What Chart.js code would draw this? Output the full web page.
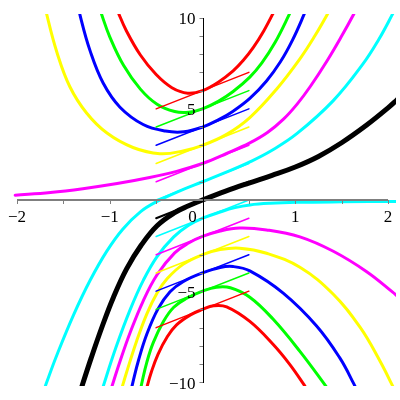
<!DOCTYPE html>
<html>
<head>
<meta charset="utf-8">
<title>Solution curves with tangent lines</title>
<script src="https://cdn.jsdelivr.net/npm/chart.js@4.4.1/dist/chart.umd.min.js"></script>
<style>
    html, body { margin: 0; padding: 0; background: #ffffff; }
    #wrap { width: 400px; height: 400px; }
</style>
</head>
<body>
<div id="wrap"><canvas id="odeChart" width="400" height="400"></canvas></div>
<script>
// y(0) of each drawn solution, top to bottom
const startValues = [6, 5, 4, 3, 2, 1, 0, -1, -2, -3, -4, -5, -6];
const curveColors = ['#ff0000', '#00ff00', '#0000ff', '#ffff00', '#ff00ff', '#00ffff', '#000000',
    '#00ffff', '#ff00ff', '#ffff00', '#0000ff', '#00ff00', '#ff0000'];

// solution curves, [x, y]
const redTop = [[-0.97, 11.08], [-0.91, 10.3], [-0.82, 9.27], [-0.67, 7.95], [-0.5, 6.88], [-0.33, 6.16], [-0.16, 5.86],
    [0, 6.0], [0.17, 6.46], [0.33, 7.08], [0.44, 7.66], [0.55, 8.38], [0.66, 9.27], [0.76, 10.23], [0.82, 10.89]];
const greenTop = [[-1.15, 11.17], [-1.09, 10.21], [-1.0, 8.95], [-0.85, 7.37], [-0.67, 6.08], [-0.49, 5.25], [-0.3, 4.85],
    [-0.15, 4.81], [0, 5.0], [0.17, 5.41], [0.33, 5.95], [0.51, 6.74], [0.64, 7.52], [0.78, 8.62], [0.93, 10.12], [0.99, 10.81]];
const blueTop = [[-1.38, 11.57], [-1.32, 10.13], [-1.21, 8.15], [-1.07, 6.4], [-0.89, 5.09], [-0.64, 4.14], [-0.4, 3.78],
    [-0.2, 3.74], [0, 4.0], [0.17, 4.39], [0.33, 4.87], [0.51, 5.57], [0.69, 6.53], [0.84, 7.58], [0.97, 8.77], [1.09, 10.12], [1.15, 10.89]];
const yellowTop = [[-1.74, 11.63], [-1.68, 10.19], [-1.57, 8.1], [-1.43, 6.21], [-1.25, 4.77], [-1.03, 3.67], [-0.75, 2.88],
    [-0.46, 2.54], [-0.21, 2.69], [0, 3.0], [0.26, 3.6], [0.51, 4.52], [0.8, 6.09], [1.05, 7.74], [1.21, 8.99], [1.36, 10.31], [1.43, 10.99]];
const magentaTop = [[-2.02, 0.26], [-1.64, 0.41], [-1.29, 0.62], [-0.92, 0.9], [-0.57, 1.23], [-0.28, 1.57], [0, 2.0],
    [0.26, 2.55], [0.51, 3.13], [0.7, 3.7], [0.87, 4.42], [1.02, 5.26], [1.16, 6.21], [1.34, 7.61], [1.5, 8.99], [1.63, 10.19], [1.7, 10.89]];
const cyanTop = [[-1.74, -10.88], [-1.68, -10.0], [-1.57, -8.5], [-1.39, -6.3], [-1.21, -4.39], [-1.03, -2.79], [-0.86, -1.6],
    [-0.67, -0.65], [-0.49, -0.08], [-0.25, 0.49], [0, 1.0], [0.25, 1.51], [0.51, 2.09], [0.75, 2.73], [1.02, 3.65], [1.41, 5.45],
    [1.73, 7.46], [1.9, 8.8], [2.04, 10.11], [2.1, 10.74]];
const blackMid = [[-1.35, -11.04], [-1.31, -10.38], [-1.2, -8.66], [-1.08, -6.91], [-0.96, -5.33], [-0.82, -3.79], [-0.66, -2.47],
    [-0.49, -1.41], [-0.3, -0.69], [-0.15, -0.32], [0, 0], [0.25, 0.49], [0.5, 0.93], [0.75, 1.35], [1.0, 1.81], [1.25, 2.39],
    [1.5, 3.14], [1.77, 4.11], [2.0, 5.05], [2.1, 5.51]];
const cyanLow = [[-1.11, -10.89], [-1.07, -10.21], [-0.93, -8.04], [-0.78, -6.01], [-0.64, -4.42], [-0.49, -3.1], [-0.31, -2.02],
    [-0.15, -1.38], [0, -1.0], [0.19, -0.66], [0.35, -0.42], [0.51, -0.27], [0.73, -0.18], [1.02, -0.13], [1.5, -0.1], [2.1, -0.08]];
const magentaLow = [[-1.02, -10.95], [-0.98, -10.28], [-0.89, -8.86], [-0.78, -7.27], [-0.64, -5.54], [-0.49, -4.1], [-0.3, -2.9],
    [-0.15, -2.36], [0, -2.0], [0.19, -1.7], [0.4, -1.54], [0.69, -1.64], [1.05, -2.02], [1.41, -2.81], [1.77, -3.93],
    [2.05, -5.05], [2.1, -5.27]];
const yellowLow = [[-0.9, -10.87], [-0.86, -10.15], [-0.82, -9.47], [-0.71, -7.73], [-0.6, -6.24], [-0.49, -5.1], [-0.38, -4.31],
    [-0.21, -3.53], [0, -3.0], [0.19, -2.72], [0.4, -2.64], [0.69, -2.92], [1.05, -3.69], [1.41, -5.17], [1.7, -6.99],
    [1.91, -8.8], [2.04, -10.1], [2.1, -10.76]];
const blueLow = [[-0.79, -10.87], [-0.75, -9.99], [-0.69, -8.79], [-0.6, -7.35], [-0.48, -5.97], [-0.35, -5.03], [-0.21, -4.48],
    [0, -4.0], [0.19, -3.7], [0.33, -3.65], [0.51, -3.89], [0.87, -5.11], [1.23, -6.91], [1.48, -8.66], [1.63, -10.07], [1.7, -10.83]];
const greenLow = [[-0.69, -10.94], [-0.65, -9.94], [-0.6, -8.89], [-0.53, -7.81], [-0.42, -6.65], [-0.31, -5.88], [-0.17, -5.39],
    [0, -5.0], [0.15, -4.78], [0.3, -4.81], [0.51, -5.33], [0.76, -6.53], [1.05, -8.3], [1.32, -10.14], [1.38, -10.58]];
const redLow = [[-0.64, -11.08], [-0.6, -10.28], [-0.55, -9.41], [-0.48, -8.46], [-0.38, -7.5], [-0.28, -6.85], [-0.13, -6.3],
    [0, -6.0], [0.12, -5.8], [0.26, -5.86], [0.51, -6.66], [0.76, -7.91], [0.94, -9.01], [1.09, -10.1], [1.15, -10.59]];

const curves = [redTop, greenTop, blueTop, yellowTop, magentaTop, cyanTop, blackMid,
    cyanLow, magentaLow, yellowLow, blueLow, greenLow, redLow];

// tangent segments through (0, y0), from x = -0.5 to x = 0.5
const segX = [-0.5, 0.5];
const segLeftY = [5, 4, 3, 2, 1, 0, -1, -2, -3, -4, -5, -6, -7];
const segRightY = [7, 6, 5, 4, 3, 2, 1, 0, -1, -2, -3, -4, -5];

// axis ticks and labels
const xTicks = [-2, -1, 0, 1, 2];
const xTickLabels = ['\u22122', '\u22121', '0', '1', '2'];
const yTicks = [10, 5, -5, -10];
const yTickLabels = ['10', '5', '\u22125', '\u221210'];

const datasets = [];
curves.forEach((pts, i) => {
    datasets.push({
        data: pts.map(p => ({x: p[0], y: p[1]})),
        borderColor: curveColors[i],
        borderWidth: startValues[i] === 0 ? 5 : 3,
        order: 1
    });
});
startValues.forEach((v, i) => {
    datasets.push({
        data: [{x: segX[0], y: segLeftY[i]}, {x: segX[1], y: segRightY[i]}],
        borderColor: curveColors[i],
        borderWidth: startValues[i] === 0 ? 2 : 1.5,
        tension: 0,
        order: 0
    });
});

// Maple-style axes crossing at the origin
const mapleAxes = {
    id: 'mapleAxes',
    afterDatasetsDraw(chart) {
        const {ctx, scales: {x, y}} = chart;
        const ax = Math.round(x.getPixelForValue(0)) + 0.5;
        const ay = Math.round(y.getPixelForValue(0));
        ctx.save();

        ctx.strokeStyle = '#7f7f7f';
        ctx.lineWidth = 2;
        ctx.beginPath();
        ctx.moveTo(x.getPixelForValue(-2), ay);
        ctx.lineTo(x.getPixelForValue(2), ay);
        ctx.stroke();

        ctx.lineWidth = 1;
        ctx.beginPath();
        for (let k = -4; k <= 4; k++) {
            const px = Math.round(x.getPixelForValue(k / 2)) + 0.5;
            ctx.moveTo(px, ay);
            ctx.lineTo(px, ay + 4);
        }
        for (let k = -10; k <= 10; k++) {
            const py = Math.round(y.getPixelForValue(k)) + 0.5;
            ctx.moveTo(ax, py);
            ctx.lineTo(ax - 4, py);
        }
        ctx.stroke();

        ctx.strokeStyle = '#000000';
        ctx.beginPath();
        ctx.moveTo(ax, Math.round(y.getPixelForValue(10)));
        ctx.lineTo(ax, Math.round(y.getPixelForValue(-10)) + 1);
        ctx.stroke();

        ctx.fillStyle = '#000000';
        ctx.font = '17px "Liberation Serif", "DejaVu Serif", serif';
        ctx.textBaseline = 'middle';
        ctx.textAlign = 'center';
        xTicks.forEach((v, i) => {
            let px = x.getPixelForValue(v);
            if (v === 0) px -= 10;
            ctx.fillText(xTickLabels[i], px, ay + 18);
        });
        ctx.textAlign = 'right';
        yTicks.forEach((v, i) => {
            ctx.fillText(yTickLabels[i], ax - 8, y.getPixelForValue(v) + 2);
        });
        ctx.restore();
    }
};

new Chart(document.getElementById('odeChart'), {
    type: 'scatter',
    data: {datasets: datasets},
    options: {
        responsive: false,
        devicePixelRatio: 1,
        animation: false,
        layout: {padding: {left: 12, right: 4, top: 14, bottom: 14}},
        showLine: true,
        elements: {
            point: {radius: 0, hoverRadius: 0},
            line: {tension: 0.4, fill: false, borderCapStyle: 'round', borderJoinStyle: 'round'}
        },
        datasets: {scatter: {showLine: true, clip: 0}},
        scales: {
            x: {type: 'linear', min: -2.054, max: 2.086, display: false},
            y: {type: 'linear', min: -10.2, max: 10.2, display: false}
        },
        plugins: {
            legend: {display: false},
            tooltip: {enabled: false}
        }
    },
    plugins: [mapleAxes]
});
</script>
</body>
</html>
